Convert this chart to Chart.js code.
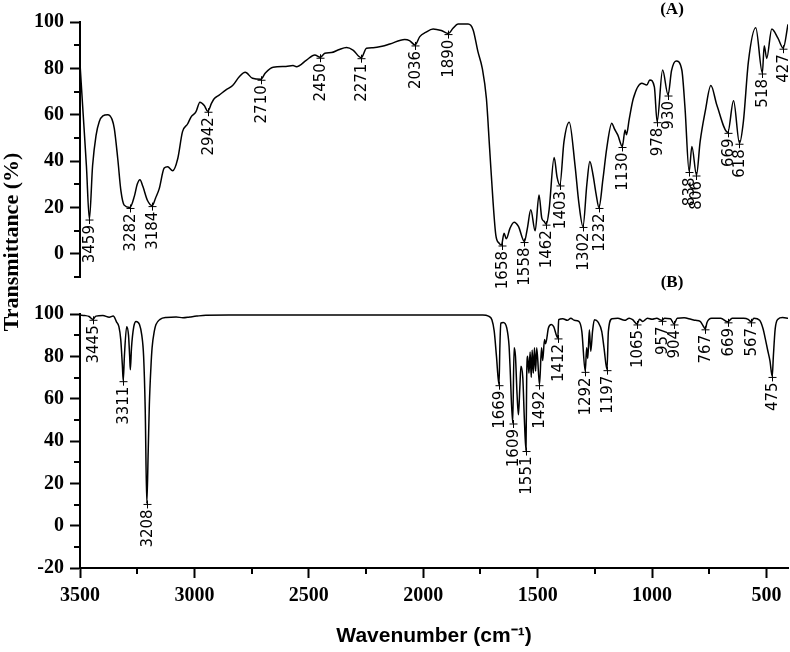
<!DOCTYPE html>
<html>
<head>
<meta charset="utf-8">
<script src="https://cdn.jsdelivr.net/npm/chart.js@4.4.0/dist/chart.umd.min.js"></script>
<style>
    html, body { margin: 0; padding: 0; background: #fff; }
    #wrap { position: relative; width: 790px; height: 652px; }
    #wrap canvas { position: absolute; left: 0; top: 0; }
</style>
</head>
<body>
<div id="wrap">
    <canvas id="chartA" width="790" height="652"></canvas>
    <canvas id="chartB" width="790" height="652"></canvas>
</div>
<script>
// ==========================================
// FTIR spectra (A) and (B)
// ==========================================

// Spectrum A (top panel) - wavenumber (cm-1) / transmittance (%)
const waveA = [3500, 3486, 3472, 3459, 3445, 3430, 3416, 3400, 3379, 3360, 3350, 3335, 3321, 3307, 3282,
    3262, 3250, 3238, 3225, 3205, 3184, 3170, 3154, 3132, 3117, 3095, 3073, 3052, 3030, 3015, 2993, 2976,
    2957, 2942, 2925, 2913, 2892, 2862, 2833, 2804, 2778, 2746, 2710, 2690, 2656, 2600, 2569, 2554, 2510,
    2474, 2450, 2430, 2401, 2370, 2335, 2307, 2271, 2248, 2219, 2180, 2146, 2081, 2060, 2036, 2015, 1990,
    1957, 1921, 1890, 1870, 1848, 1804, 1782, 1761, 1742, 1724, 1710, 1695, 1683, 1668, 1658, 1647, 1637,
    1621, 1603, 1584, 1558, 1545, 1530, 1511, 1494, 1482, 1472, 1462, 1450, 1428, 1415, 1403, 1385, 1362,
    1337, 1320, 1302, 1285, 1272, 1258, 1245, 1232, 1215, 1198, 1176, 1165, 1150, 1130, 1118, 1112, 1100,
    1082, 1045, 1023, 1010, 990, 978, 954, 930, 915, 895, 870, 856, 838, 826, 806, 790, 768, 743, 717,
    669, 644, 618, 601, 579, 547, 518, 510, 499, 477, 450, 427, 406];
const transA = [82, 60, 38, 15, 38, 51, 57, 59.5, 60, 58, 54, 41, 27, 21, 20,
    25, 30, 32, 29, 23, 20.8, 24, 28, 37, 37.6, 35.8, 41, 52.7, 56, 59, 61.3, 65.4,
    64, 61.5, 65, 67, 68.5, 70.7, 72.6, 76.4, 78.3, 75.7, 75.3, 78, 80.5, 80.8, 81.2, 80.7, 83.6,
    85.8, 84.8, 86.5, 86.8, 88, 89, 87.9, 84.6, 88.7, 88.9, 89.5, 90.5, 92.5, 92, 90.1, 93.7, 95.5,
    97, 96.3, 95, 97.3, 99.1, 99.1, 96.6, 87.2, 80, 67, 45.6, 22.5, 8.2, 4.5, 3.8, 8.9, 6.5,
    11, 13.6, 11.8, 5.3, 11, 19, 9.9, 25.4, 15.4, 14, 12.8, 19, 41.5, 33, 29.7, 48.4, 56.8,
    38.4, 22, 11.8, 30, 39.8, 34, 26, 20, 32, 45.6, 56.3, 54, 51.3, 46.3, 53.4, 51.4, 58,
    67, 73.6, 72.8, 75, 72, 57, 79.3, 68.5, 79, 83.2, 79.3, 62.8, 35.5, 46.3, 34, 48.4, 61.3, 72.6, 64.2,
    52.4, 66, 47.7, 57, 82.9, 97.5, 78, 89.8, 84.3, 97, 93, 88.7, 99];
const peaksA = [3459, 3282, 3184, 2942, 2710, 2450, 2271, 2036, 1890, 1658, 1558, 1462, 1403, 1302,
    1232, 1130, 978, 930, 838, 806, 669, 618, 518, 427];

// Spectrum B (bottom panel)
const waveB = [3500, 3480, 3460, 3445, 3430, 3400, 3372, 3355, 3340, 3330, 3322, 3315, 3311, 3306, 3296,
    3288, 3283, 3280, 3275, 3265, 3255, 3240, 3230, 3222, 3215, 3208, 3202, 3197, 3190, 3185, 3175, 3168,
    3150, 3124, 3080, 3050, 3020, 2990, 2950, 2850, 1800, 1740, 1715, 1700, 1690, 1680, 1669, 1665, 1661,
    1650, 1635, 1625, 1621, 1609, 1603, 1597, 1590, 1584, 1578, 1573, 1565, 1558, 1551, 1548, 1544, 1538,
    1533, 1528, 1524, 1519, 1514, 1509, 1504, 1492, 1483, 1478, 1470, 1465, 1453, 1440, 1430, 1412, 1408,
    1390, 1370, 1355, 1340, 1320, 1307, 1292, 1286, 1281, 1274, 1268, 1260, 1252, 1235, 1220, 1210, 1197,
    1191, 1175, 1150, 1120, 1100, 1085, 1065, 1055, 1040, 1020, 1000, 980, 957, 945, 920, 904, 890, 860,
    830, 810, 790, 780, 767, 760, 740, 700, 669, 650, 600, 580, 567, 555, 530, 515, 506, 495, 485, 475,
    470, 462, 450, 430, 406];
const transB = [99.5, 99.3, 98.8, 97.5, 99, 99.3, 98.5, 99, 96.2, 94, 88, 76, 68.5, 80, 94,
    90, 80, 73.7, 84, 94, 96.5, 95, 90, 80, 55, 10.5, 35, 57, 75, 84, 92, 95,
    97.5, 98.4, 98.6, 98.2, 98.6, 99, 99.4, 99.5, 99.5, 99.5, 99, 97.3, 92, 80, 66.6, 85, 95.7,
    96, 93.4, 85, 76, 48.5, 84, 80, 62, 52.4, 65, 75.3, 70, 50, 35.5, 70, 80, 72,
    82, 70, 83, 72, 84, 73, 84, 66.6, 84, 78, 88, 86, 93.4, 95, 94, 88.7, 97.3,
    97.8, 97, 98, 97, 96.5, 91.8, 72.9, 84, 79, 92.6, 82.3, 92, 97.3, 96, 91.8, 84, 73.7,
    91.8, 97.8, 98, 97, 98, 97.3, 95.3, 97.5, 96.5, 98, 97.5, 98, 97, 98, 97.8, 95.3, 98, 98.2,
    97.5, 97, 96.5, 95, 93, 96, 98, 98, 96.3, 98, 98, 97.5, 96.3, 98, 97, 93, 88.7, 83, 78, 70.5,
    80, 93, 97.5, 98.3, 98];
const peaksB = [3445, 3311, 3208, 1669, 1609, 1551, 1492, 1412, 1292, 1197, 1065, 957, 904, 767,
    669, 567, 475];

// Axis ticks
const xTicks = [3500, 3000, 2500, 2000, 1500, 1000, 500];
const xMinorTicks = [3250, 2750, 2250, 1750, 1250, 750];
const yTicksA = [0, 20, 40, 60, 80, 100];
const yMinorA = [-10, 10, 30, 50, 70, 90];
const yTicksB = [-20, 0, 20, 40, 60, 80, 100];
const yMinorB = [-10, 10, 30, 50, 70, 90];

const X_MIN = 406;
const X_MAX = 3500;

const TICK_FONT = { family: '"Liberation Serif", "Times New Roman", serif', size: 20, weight: 'bold' };
const PEAK_FONT = '15px "DejaVu Sans", sans-serif';

// ==========================================
// HELPERS
// ==========================================

function toPoints(waves, values) {
    return waves.map((w, i) => ({ x: w, y: values[i] }));
}

// value of the spectrum at wavenumber w (waves are descending)
function valueAt(waves, values, w) {
    for (let i = 0; i < waves.length - 1; i++) {
        if (waves[i] >= w && waves[i + 1] <= w) {
            const t = (waves[i] - w) / (waves[i] - waves[i + 1]);
            return values[i] + t * (values[i + 1] - values[i]);
        }
    }
    return values[values.length - 1];
}

// Peak labels: small cross at the band + rotated number below it
function peakLabelPlugin(id, waves, values, peaks) {
    return {
        id: id,
        afterDatasetsDraw(chart) {
            const ctx = chart.ctx;
            const xs = chart.scales.x;
            const ys = chart.scales.y;
            ctx.save();
            ctx.strokeStyle = '#000';
            ctx.fillStyle = '#000';
            ctx.lineWidth = 1;
            ctx.font = PEAK_FONT;
            peaks.forEach(p => {
                const px = Math.round(xs.getPixelForValue(p)) + 0.5;
                const py = ys.getPixelForValue(valueAt(waves, values, p));
                ctx.beginPath();
                ctx.moveTo(px, py - 3);
                ctx.lineTo(px, py + 5);
                ctx.moveTo(px - 4, py + 1);
                ctx.lineTo(px + 4, py + 1);
                ctx.stroke();

                ctx.save();
                ctx.translate(px, py + 6);
                ctx.rotate(-Math.PI / 2);
                ctx.textAlign = 'right';
                ctx.textBaseline = 'middle';
                ctx.fillText(String(p), 0, 0.5);
                ctx.restore();
            });
            ctx.restore();
        }
    };
}

// Minor tick marks drawn through the chart's own scales
function minorTickPlugin(id, yMinor, withX) {
    return {
        id: id,
        afterDraw(chart) {
            const ctx = chart.ctx;
            const area = chart.chartArea;
            ctx.save();
            ctx.strokeStyle = '#000';
            ctx.lineWidth = 2;
            ctx.beginPath();
            yMinor.forEach(v => {
                const py = Math.round(chart.scales.y.getPixelForValue(v));
                ctx.moveTo(area.left - 6, py);
                ctx.lineTo(area.left, py);
            });
            if (withX) {
                xMinorTicks.forEach(v => {
                    const px = Math.round(chart.scales.x.getPixelForValue(v));
                    ctx.moveTo(px, area.bottom);
                    ctx.lineTo(px, area.bottom + 6);
                });
            }
            ctx.stroke();
            ctx.restore();
        }
    };
}

// Free text: panel letters and the shared y title
function textPlugin(id, items) {
    return {
        id: id,
        afterDraw(chart) {
            const ctx = chart.ctx;
            ctx.save();
            ctx.fillStyle = '#000';
            items.forEach(t => {
                ctx.save();
                ctx.font = t.font;
                ctx.translate(t.x, t.y);
                if (t.rotate) ctx.rotate(t.rotate);
                ctx.textAlign = 'center';
                ctx.textBaseline = 'middle';
                ctx.fillText(t.text, 0, 0);
                ctx.restore();
            });
            ctx.restore();
        }
    };
}

function yScale(min, max, ticks) {
    return {
        type: 'linear',
        min: min,
        max: max,
        afterFit: s => { s.width = 80; },
        afterBuildTicks: s => { s.ticks = ticks.map(v => ({ value: v })); },
        ticks: { color: '#000', font: TICK_FONT, padding: 6, callback: v => String(v) },
        grid: { drawOnChartArea: false, drawTicks: true, tickLength: 10, tickWidth: 2, tickColor: '#000' },
        border: { display: true, color: '#000', width: 2 }
    };
}

function lineDataset(waves, values) {
    return {
        data: toPoints(waves, values),
        borderColor: '#000',
        borderWidth: 1.5,
        pointRadius: 0,
        fill: false,
        cubicInterpolationMode: 'monotone'
    };
}

// ==========================================
// CHARTS
// ==========================================

const chartA = new Chart(document.getElementById('chartA'), {
    type: 'line',
    data: { datasets: [lineDataset(waveA, transA)] },
    options: {
        responsive: false,
        animation: false,
        layout: { padding: { top: 22, right: 2, bottom: 375, left: 0 } },
        plugins: { legend: { display: false }, tooltip: { enabled: false } },
        scales: {
            x: { type: 'linear', reverse: true, min: X_MIN, max: X_MAX, display: false },
            y: yScale(-10, 100, yTicksA)
        }
    },
    plugins: [
        peakLabelPlugin('peaksA', waveA, transA, peaksA),
        minorTickPlugin('minorA', yMinorA, false),
        textPlugin('textA', [
            { text: '(A)', x: 672, y: 10, font: 'bold 17px "Liberation Serif", serif' }
        ])
    ]
});

const chartB = new Chart(document.getElementById('chartB'), {
    type: 'line',
    data: { datasets: [lineDataset(waveB, transB)] },
    options: {
        responsive: false,
        animation: false,
        layout: { padding: { top: 314, right: 2, bottom: 0, left: 0 } },
        plugins: { legend: { display: false }, tooltip: { enabled: false } },
        scales: {
            x: {
                type: 'linear',
                reverse: true,
                min: X_MIN,
                max: X_MAX,
                afterFit: s => { s.height = 84; },
                afterBuildTicks: s => { s.ticks = xTicks.map(v => ({ value: v })); },
                ticks: { color: '#000', font: TICK_FONT, padding: 6, maxRotation: 0, callback: v => String(v) },
                grid: { drawOnChartArea: false, drawTicks: true, tickLength: 10, tickWidth: 2, tickColor: '#000' },
                border: { display: true, color: '#000', width: 2 },
                title: {
                    display: true,
                    text: 'Wavenumber (cm\u207B\u00B9)',
                    color: '#000',
                    font: { family: '"Liberation Sans", Arial, sans-serif', size: 21, weight: 'bold' },
                    padding: { top: 0, bottom: 3 }
                }
            },
            y: yScale(-20, 100, yTicksB)
        }
    },
    plugins: [
        peakLabelPlugin('peaksB', waveB, transB, peaksB),
        minorTickPlugin('minorB', yMinorB, true),
        textPlugin('textB', [
            { text: '(B)', x: 672, y: 283, font: 'bold 17px "Liberation Serif", serif' },
            { text: 'Transmittance (%)', x: 12, y: 242, rotate: -Math.PI / 2, font: 'bold 22px "Liberation Serif", serif' }
        ])
    ]
});
</script>
</body>
</html>
